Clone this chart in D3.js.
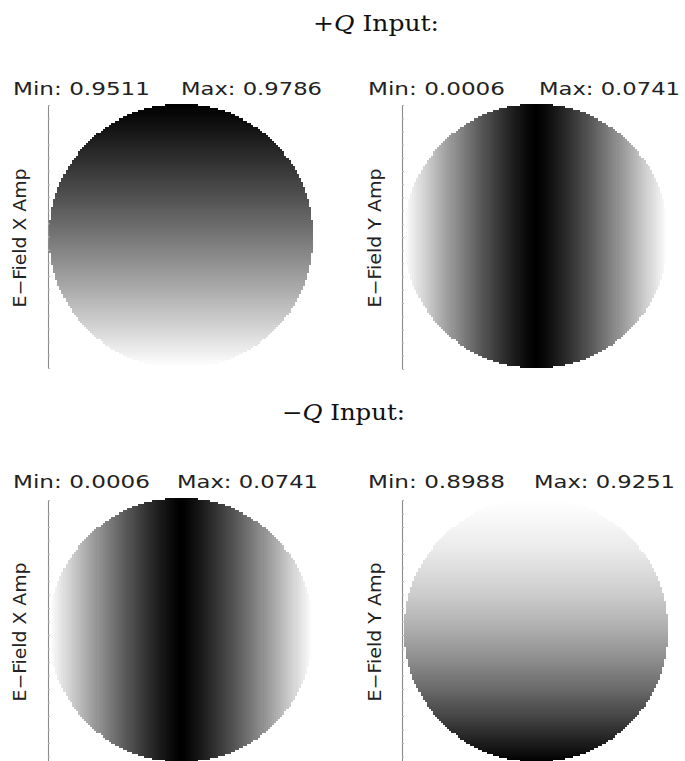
<!DOCTYPE html>
<html><head><meta charset="utf-8">
<script src="https://cdn.jsdelivr.net/npm/d3@7/dist/d3.min.js"></script>
<style>body{margin:0;background:#fff}svg{display:block}</style>
</head><body>
<svg id="chart" width="685" height="761"></svg>
<script>
// ---------------- data ----------------
const sectionSigns = ["+", "\u2212"];
const sectionWords = ["Q", " Input:"];
const panelLabels = ["E\u2212Field X Amp", "E\u2212Field Y Amp", "E\u2212Field X Amp", "E\u2212Field Y Amp"];
const minLabels = ["0.9511", "0.0006", "0.0006", "0.8988"];
const maxLabels = ["0.9786", "0.0741", "0.0741", "0.9251"];

// +Q input, E-field X amplitude: value per pupil row (top -> bottom)
const plusQ_XAmp_rows = [
  0.9511,0.9513,0.9515,0.9517,0.9518,0.9520,0.9522,0.9524,0.9526,0.9528,
  0.9530,0.9532,0.9533,0.9535,0.9537,0.9539,0.9541,0.9543,0.9545,0.9547,
  0.9549,0.9551,0.9553,0.9555,0.9557,0.9559,0.9561,0.9563,0.9565,0.9567,
  0.9569,0.9571,0.9573,0.9575,0.9577,0.9579,0.9581,0.9583,0.9585,0.9587,
  0.9589,0.9591,0.9593,0.9595,0.9597,0.9599,0.9601,0.9603,0.9605,0.9607,
  0.9609,0.9612,0.9614,0.9616,0.9618,0.9620,0.9622,0.9624,0.9626,0.9629,
  0.9631,0.9633,0.9635,0.9637,0.9639,0.9641,0.9644,0.9646,0.9648,0.9650,
  0.9652,0.9655,0.9657,0.9659,0.9661,0.9663,0.9666,0.9668,0.9670,0.9672,
  0.9675,0.9677,0.9679,0.9681,0.9684,0.9686,0.9688,0.9690,0.9693,0.9695,
  0.9697,0.9700,0.9702,0.9704,0.9707,0.9709,0.9711,0.9714,0.9716,0.9718,
  0.9721,0.9723,0.9725,0.9728,0.9730,0.9732,0.9735,0.9737,0.9740,0.9742,
  0.9744,0.9747,0.9749,0.9752,0.9754,0.9756,0.9759,0.9761,0.9764,0.9766,
  0.9769,0.9771,0.9774,0.9776,0.9779,0.9781,0.9784,0.9786];
// +Q input, E-field Y amplitude: value per pupil column (left -> right)
const plusQ_YAmp_cols = [
  0.0741,0.0727,0.0713,0.0699,0.0685,0.0671,0.0658,0.0644,0.0630,0.0617,
  0.0603,0.0590,0.0576,0.0563,0.0550,0.0536,0.0523,0.0510,0.0497,0.0484,
  0.0471,0.0458,0.0445,0.0432,0.0419,0.0407,0.0394,0.0381,0.0369,0.0357,
  0.0344,0.0332,0.0320,0.0308,0.0296,0.0284,0.0272,0.0260,0.0248,0.0237,
  0.0225,0.0214,0.0203,0.0191,0.0180,0.0169,0.0159,0.0148,0.0137,0.0127,
  0.0117,0.0106,0.0097,0.0087,0.0077,0.0068,0.0059,0.0050,0.0041,0.0033,
  0.0025,0.0018,0.0011,0.0006,
  0.0006,0.0011,0.0018,0.0025,0.0033,0.0041,0.0050,0.0059,0.0068,0.0077,
  0.0087,0.0097,0.0106,0.0117,0.0127,0.0137,0.0148,0.0159,0.0169,0.0180,
  0.0191,0.0203,0.0214,0.0225,0.0237,0.0248,0.0260,0.0272,0.0284,0.0296,
  0.0308,0.0320,0.0332,0.0344,0.0357,0.0369,0.0381,0.0394,0.0407,0.0419,
  0.0432,0.0445,0.0458,0.0471,0.0484,0.0497,0.0510,0.0523,0.0536,0.0550,
  0.0563,0.0576,0.0590,0.0603,0.0617,0.0630,0.0644,0.0658,0.0671,0.0685,
  0.0699,0.0713,0.0727,0.0741];
// -Q input, E-field X amplitude: value per pupil column (left -> right)
const minusQ_XAmp_cols = [
  0.0741,0.0727,0.0713,0.0699,0.0685,0.0671,0.0658,0.0644,0.0630,0.0617,
  0.0603,0.0590,0.0576,0.0563,0.0550,0.0536,0.0523,0.0510,0.0497,0.0484,
  0.0471,0.0458,0.0445,0.0432,0.0419,0.0407,0.0394,0.0381,0.0369,0.0357,
  0.0344,0.0332,0.0320,0.0308,0.0296,0.0284,0.0272,0.0260,0.0248,0.0237,
  0.0225,0.0214,0.0203,0.0191,0.0180,0.0169,0.0159,0.0148,0.0137,0.0127,
  0.0117,0.0106,0.0097,0.0087,0.0077,0.0068,0.0059,0.0050,0.0041,0.0033,
  0.0025,0.0018,0.0011,0.0006,
  0.0006,0.0011,0.0018,0.0025,0.0033,0.0041,0.0050,0.0059,0.0068,0.0077,
  0.0087,0.0097,0.0106,0.0117,0.0127,0.0137,0.0148,0.0159,0.0169,0.0180,
  0.0191,0.0203,0.0214,0.0225,0.0237,0.0248,0.0260,0.0272,0.0284,0.0296,
  0.0308,0.0320,0.0332,0.0344,0.0357,0.0369,0.0381,0.0394,0.0407,0.0419,
  0.0432,0.0445,0.0458,0.0471,0.0484,0.0497,0.0510,0.0523,0.0536,0.0550,
  0.0563,0.0576,0.0590,0.0603,0.0617,0.0630,0.0644,0.0658,0.0671,0.0685,
  0.0699,0.0713,0.0727,0.0741];
// -Q input, E-field Y amplitude: value per pupil row (top -> bottom)
const minusQ_YAmp_rows = [
  0.9251,0.9250,0.9250,0.9249,0.9248,0.9248,0.9247,0.9246,0.9245,0.9244,
  0.9244,0.9243,0.9242,0.9241,0.9240,0.9239,0.9238,0.9237,0.9236,0.9235,
  0.9234,0.9233,0.9232,0.9231,0.9230,0.9228,0.9227,0.9226,0.9225,0.9223,
  0.9222,0.9221,0.9219,0.9218,0.9217,0.9215,0.9214,0.9212,0.9211,0.9209,
  0.9208,0.9206,0.9205,0.9203,0.9202,0.9200,0.9198,0.9197,0.9195,0.9193,
  0.9191,0.9190,0.9188,0.9186,0.9184,0.9182,0.9180,0.9179,0.9177,0.9175,
  0.9173,0.9171,0.9169,0.9167,0.9164,0.9162,0.9160,0.9158,0.9156,0.9154,
  0.9152,0.9149,0.9147,0.9145,0.9143,0.9140,0.9138,0.9135,0.9133,0.9131,
  0.9128,0.9126,0.9123,0.9121,0.9118,0.9116,0.9113,0.9111,0.9108,0.9105,
  0.9103,0.9100,0.9097,0.9095,0.9092,0.9089,0.9086,0.9083,0.9080,0.9078,
  0.9075,0.9072,0.9069,0.9066,0.9063,0.9060,0.9057,0.9054,0.9051,0.9048,
  0.9045,0.9041,0.9038,0.9035,0.9032,0.9029,0.9025,0.9022,0.9019,0.9015,
  0.9012,0.9009,0.9005,0.9002,0.8998,0.8995,0.8992,0.8988];

const panelProfiles = [plusQ_XAmp_rows, plusQ_YAmp_cols, minusQ_XAmp_cols, minusQ_YAmp_rows];
const panelAxisOfVariation = ["row", "col", "col", "row"];

// ---------------- layout ----------------
const N = 128;
const GRID = 264;
const pupilR2 = 4100; // pupil radius squared, in cell units
const layout = [
  {gx: 49,  gy: 104, ax: 48,  ay0: 105, ay1: 368, lblX: 26,  minX: 13,  maxX: 322, textY: 95},
  {gx: 404, gy: 104, ax: 402, ay0: 105, ay1: 369, lblX: 381, minX: 368, maxX: 680, textY: 95},
  {gx: 49,  gy: 498, ax: 48,  ay0: 500, ay1: 770, lblX: 26,  minX: 13,  maxX: 318, textY: 488},
  {gx: 404, gy: 498, ax: 402, ay0: 500, ay1: 770, lblX: 381, minX: 368, maxX: 675, textY: 488}
];
const titleLayout = [{x: 313, y: 31, w: 126}, {x: 282, y: 420, w: 123}];

const svg = d3.select("#chart");
svg.append("rect").attr("width", 685).attr("height", 761).attr("fill", "#fff");

// section titles
sectionSigns.forEach((s, k) => {
  const t = svg.append("text")
    .attr("x", titleLayout[k].x).attr("y", titleLayout[k].y)
    .attr("font-family", "'DejaVu Serif', 'Liberation Serif', serif")
    .attr("font-size", 22).attr("fill", "#111")
    .attr("textLength", titleLayout[k].w).attr("lengthAdjust", "spacingAndGlyphs");
  t.append("tspan").text(s);
  t.append("tspan").attr("font-style", "italic").text(sectionWords[0]);
  t.append("tspan").text(sectionWords[1]);
});

const idx = d3.range(N);
layout.forEach((L, p) => {
  const xs = d3.scaleBand().domain(idx).range([L.gx, L.gx + GRID]);
  const ys = d3.scaleBand().domain(idx).range([L.gy, L.gy + GRID]);
  const prof = panelProfiles[p];
  const color = d3.scaleLinear().domain(d3.extent(prof)).range(["#000000", "#ffffff"]).clamp(true);
  const cells = [];
  idx.forEach(j => idx.forEach(i => {
    const dx = i - (N - 1) / 2, dy = j - (N - 1) / 2;
    if (dx * dx + dy * dy <= pupilR2) {
      cells.push({i, j, v: panelAxisOfVariation[p] === "row" ? prof[j] : prof[i]});
    }
  }));
  const g = svg.append("g");
  g.selectAll("rect").data(cells).join("rect")
    .attr("x", d => xs(d.i)).attr("y", d => ys(d.j))
    .attr("width", xs.bandwidth() + 0.3).attr("height", ys.bandwidth() + 0.3)
    .attr("fill", d => color(d.v))
    .attr("shape-rendering", "crispEdges");

  // left axis line with small ticks
  const ay = d3.scaleLinear().domain([0, 20]).range([L.ay1, L.ay0]);
  const axisG = svg.append("g").attr("transform", `translate(${L.ax},0)`)
    .call(d3.axisRight(ay).ticks(20).tickSize(2).tickSizeOuter(0).tickFormat(""));
  axisG.select(".domain").attr("stroke", "#8a8a8a").attr("stroke-width", 1.1);
  axisG.selectAll(".tick line").attr("stroke", "#b8b8b8");

  // min / max labels
  svg.append("text").attr("x", L.minX).attr("y", L.textY)
    .attr("font-family", "'DejaVu Sans', sans-serif").attr("font-size", 18)
    .attr("fill", "#222").attr("textLength", 137).attr("lengthAdjust", "spacingAndGlyphs")
    .text("Min: " + minLabels[p]);
  svg.append("text").attr("x", L.maxX - 141).attr("y", L.textY)
    .attr("font-family", "'DejaVu Sans', sans-serif").attr("font-size", 18)
    .attr("fill", "#222").attr("textLength", 141).attr("lengthAdjust", "spacingAndGlyphs")
    .text("Max: " + maxLabels[p]);

  // vertical axis label
  const cy = L.gy + GRID / 2 + 2;
  svg.append("text")
    .attr("transform", `translate(${L.lblX},${cy}) rotate(-90)`)
    .attr("text-anchor", "middle")
    .attr("font-family", "'DejaVu Sans', sans-serif").attr("font-size", 17)
    .attr("fill", "#222").attr("textLength", 139).attr("lengthAdjust", "spacingAndGlyphs")
    .text(panelLabels[p]);
});
</script>
</body></html>
